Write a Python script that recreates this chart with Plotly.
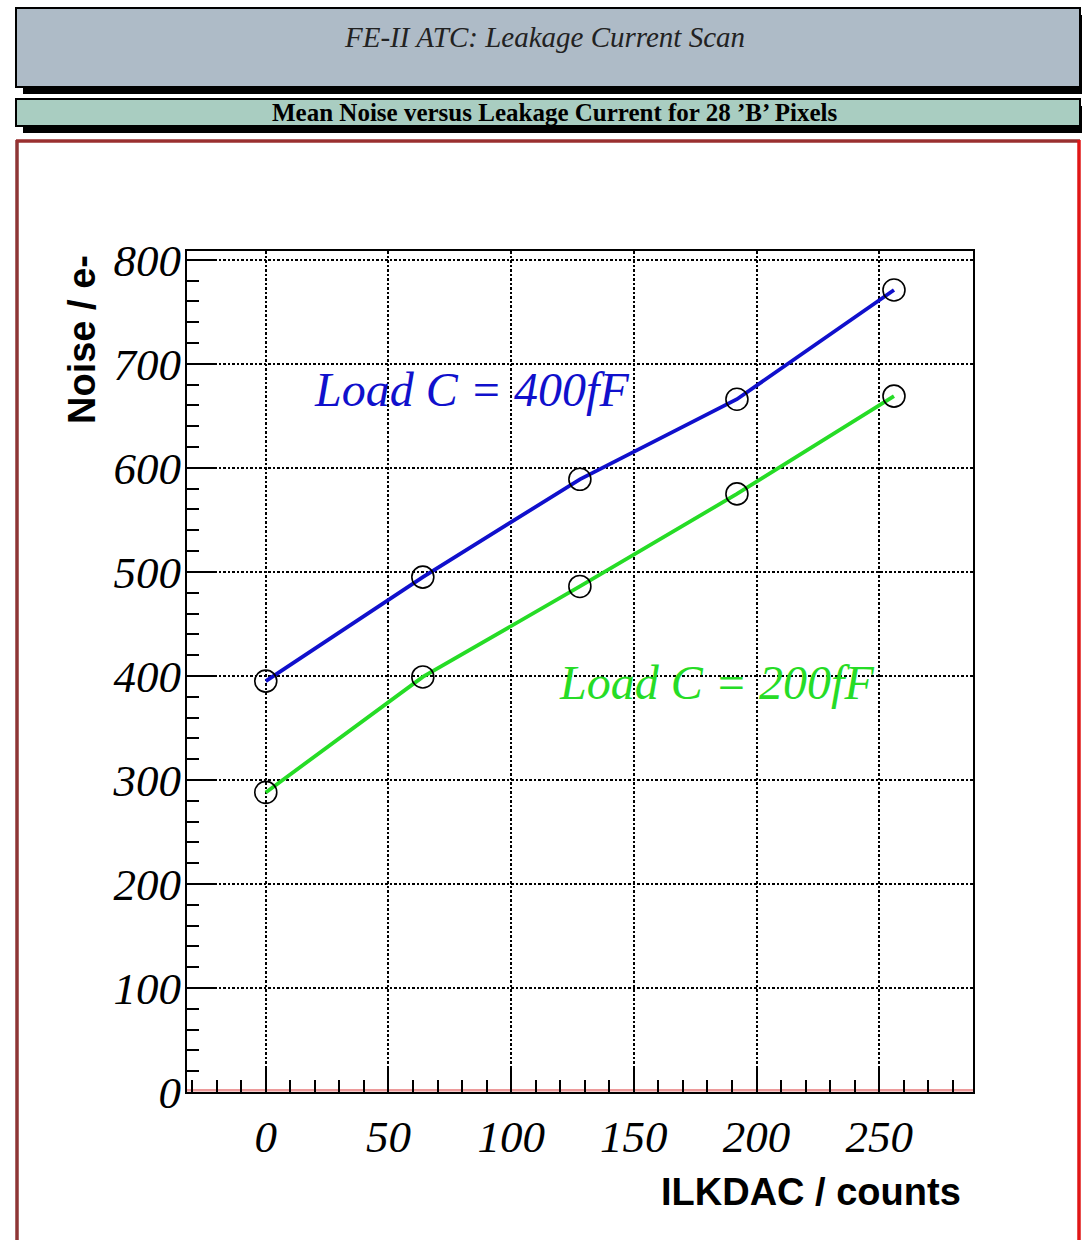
import plotly.graph_objects as go

# ILKDAC settings scanned and mean noise (e-) for the two load capacitances
ilkdac = [0, 64, 128, 192, 256]
noise_400ff = [395, 495, 589, 666, 771]
noise_200ff = [288, 399, 486, 575, 669]

x_ticks = [0, 50, 100, 150, 200, 250]
y_ticks = [0, 100, 200, 300, 400, 500, 600, 700, 800]

title_text = "FE-II ATC: Leakage Current Scan"
subtitle_text = "Mean Noise versus Leakage Current for 28 \u2019B\u2019 Pixels"

W, H = 1082, 1240
ML, MR, MT, MB = 187, 109, 251, 148
PW, PH = W - ML - MR, H - MT - MB


def px(x):
    return (x - ML) / PW


def py(y):
    return (H - MB - y) / PH


SERIF = "Liberation Serif"
SANS = "Liberation Sans"
BLUE = "#1010cc"
GREEN = "#26dc26"

fig = go.Figure()

fig.add_trace(go.Scatter(
    x=ilkdac, y=noise_400ff, mode="lines+markers",
    line=dict(color=BLUE, width=3.8),
    marker=dict(symbol="circle-open", size=22, color="black",
                line=dict(color="black", width=1.6)),
    showlegend=False,
))
fig.add_trace(go.Scatter(
    x=ilkdac, y=noise_200ff, mode="lines+markers",
    line=dict(color=GREEN, width=3.8),
    marker=dict(symbol="circle-open", size=22, color="black",
                line=dict(color="black", width=1.6)),
    showlegend=False,
))

axis_common = dict(
    showline=True, linecolor="black", linewidth=2, mirror=True,
    ticks="inside", tickcolor="black", tickwidth=1.5,
    showgrid=True, gridcolor="black", gridwidth=1.5, griddash="2.5px,2px",
    zeroline=False,
    tickfont=dict(family=SERIF, size=45, color="black", style="italic"),
)

fig.update_xaxes(
    **axis_common,
    range=[-32.1, 288.2], tickvals=x_ticks, ticklen=26,
    ticklabelstandoff=4,
    minor=dict(ticks="inside", ticklen=12, tickwidth=1.5, tickcolor="black",
               dtick=10, tick0=0, showgrid=False),
)
fig.update_yaxes(
    **axis_common,
    range=[0, 808.5], tickvals=y_ticks, ticklen=28,
    ticklabelstandoff=-5,
    minor=dict(ticks="inside", ticklen=12, tickwidth=1.5, tickcolor="black",
               dtick=20, tick0=0, showgrid=False),
)

shapes = []

# header panels with drop shadows
for (x0, y0, x1, y1, fill) in [(16, 8, 1080, 87, "#aebbc7"),
                               (16, 99, 1080, 126, "#a9cdc1")]:
    shapes.append(dict(type="rect", xref="paper", yref="paper",
                       x0=px(x0 + 7), x1=px(x1 + 4), y0=py(y0 + 7), y1=py(y1 + 7),
                       fillcolor="black", line=dict(width=0), layer="above"))
    shapes.append(dict(type="rect", xref="paper", yref="paper",
                       x0=px(x0), x1=px(x1), y0=py(y0), y1=py(y1),
                       fillcolor=fill, line=dict(color="black", width=2),
                       layer="above"))

# pad frame
shapes.append(dict(type="line", xref="paper", yref="paper",
                   x0=px(17), x1=px(17), y0=py(140), y1=py(1245),
                   line=dict(color="#8e3636", width=3.5)))
shapes.append(dict(type="line", xref="paper", yref="paper",
                   x0=px(16), x1=px(1080), y0=py(141), y1=py(141),
                   line=dict(color="#9a3030", width=3.5)))
shapes.append(dict(type="line", xref="paper", yref="paper",
                   x0=px(1079), x1=px(1079), y0=py(140), y1=py(1245),
                   line=dict(color="#e01616", width=3.5)))

# faint red edge along the bottom of the frame
shapes.append(dict(type="line", xref="x domain", yref="y domain",
                   x0=0, x1=1, y0=0.002, y1=0.002,
                   line=dict(color="rgba(215,30,30,0.45)", width=2.5),
                   layer="below"))

annotations = [
    dict(text=title_text, xref="paper", yref="paper", x=px(544), y=py(37),
         xanchor="center", yanchor="middle", showarrow=False,
         font=dict(family=SERIF, size=29, color="#222222", style="italic")),
    dict(text=subtitle_text, xref="paper", yref="paper", x=px(554), y=py(113),
         xanchor="center", yanchor="middle", showarrow=False,
         font=dict(family=SERIF, size=25, color="black", weight="bold")),
    dict(text="Noise / e-", xref="paper", yref="paper", x=px(82), y=py(340),
         xanchor="center", yanchor="middle", textangle=-90, showarrow=False,
         font=dict(family=SANS, size=38, color="black", weight="bold")),
    dict(text="ILKDAC / counts", xref="paper", yref="paper", x=px(963), y=py(1192),
         xanchor="right", yanchor="middle", showarrow=False,
         font=dict(family=SANS, size=38, color="black", weight="bold")),
    dict(text="Load C = 400fF", x=83.8, y=675, xref="x", yref="y",
         xanchor="center", yanchor="middle", showarrow=False,
         font=dict(family=SERIF, size=48, color=BLUE, style="italic")),
    dict(text="Load C = 200fF", x=183.5, y=394, xref="x", yref="y",
         xanchor="center", yanchor="middle", showarrow=False,
         font=dict(family=SERIF, size=48, color=GREEN, style="italic")),
]

fig.update_layout(
    width=W, height=H, autosize=False,
    margin=dict(l=ML, r=MR, t=MT, b=MB, pad=0),
    paper_bgcolor="white", plot_bgcolor="white",
    shapes=shapes, annotations=annotations,
    showlegend=False,
)

fig.write_html("out.html")
